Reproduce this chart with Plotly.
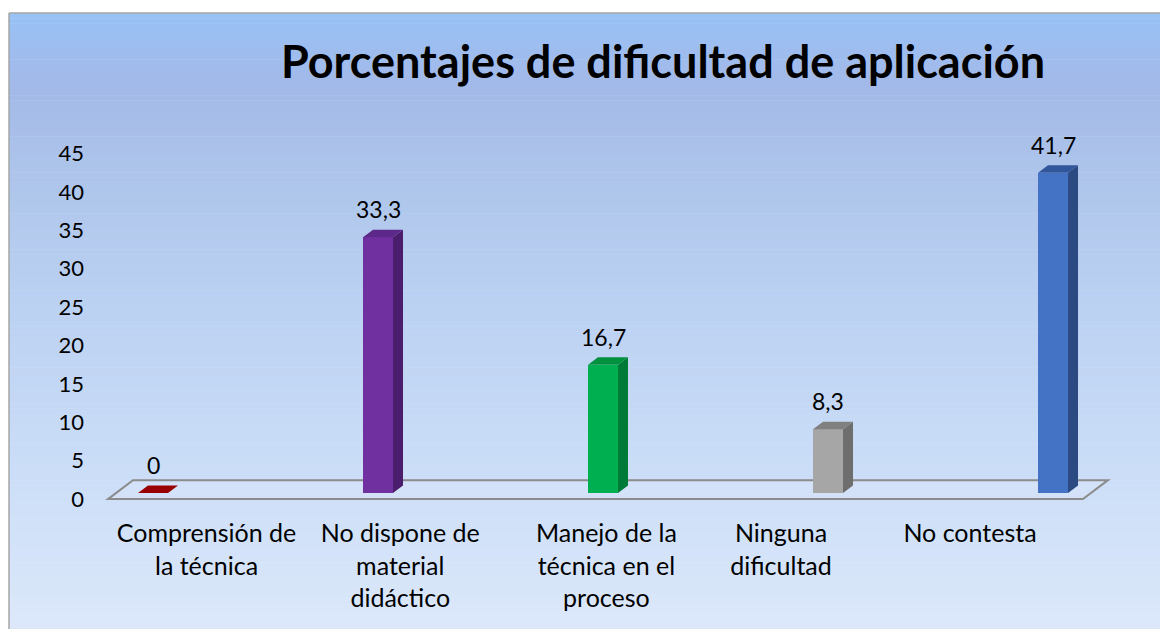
import plotly.graph_objects as go

# ---------------- data ----------------
categories = [
    "Comprensión de<br>la técnica",
    "No dispone de<br>material<br>didáctico",
    "Manejo de la<br>técnica en el<br>proceso",
    "Ninguna<br>dificultad",
    "No contesta",
]
values = [0, 33.3, 16.7, 8.3, 41.7]
y_ticks = [0, 5, 10, 15, 20, 25, 30, 35, 40, 45]

# ---------------- styles ----------------
front_colors = ["#c00000", "#7030a0", "#00b050", "#a6a6a6", "#4472c4"]
side_colors = ["#7a0000", "#4a1e6c", "#007a37", "#6e6e6e", "#2c4a82"]
top_colors = ["#990000", "#5c2889", "#00913f", "#808080", "#31569b"]
# small horizontal nudges of the wrapped category labels (label-axis units)
label_nudge = [0.0, 0.015, 0.095, 0.01, 0.0]

W, H = 1160, 629
ML, MR, MT, MB = 90, 10, 109, 109
PW, PH = W - ML - MR, H - MT - MB
FONT = "Lato"

x_range = [-0.28, 4.431]
y_range = [-3.5, 50]
bar_w = 30 / 225          # front face width (data units)
dx = 10 / 225             # depth offset (x)
dy = 7.5 / (PH / (y_range[1] - y_range[0]))  # depth offset (y)

def px_x(p):
    return (p - ML) / PW

def px_y(p):
    return (H - MB - p) / PH

fig = go.Figure()

# ---- background gradient (bands) ----
stops = [(13, (152, 193, 245)), (90, (163, 185, 232)), (160, (172, 195, 234)),
         (300, (187, 209, 242)), (450, (201, 220, 247)), (629, (220, 232, 250))]
shapes = []
n_bands = 120
top_px, bot_px = 13, 629
for b in range(n_bands):
    y0p = top_px + (bot_px - top_px) * b / n_bands
    y1p = top_px + (bot_px - top_px) * (b + 1) / n_bands
    ym = (y0p + y1p) / 2
    for (a, ca), (c, cc) in zip(stops[:-1], stops[1:]):
        if a <= ym <= c:
            t = (ym - a) / (c - a)
            col = tuple(int(round(ca[k] + (cc[k] - ca[k]) * t)) for k in range(3))
            break
    shapes.append(dict(type="rect", xref="paper", yref="paper", layer="below",
                       x0=px_x(9), x1=px_x(W + 5), y0=px_y(y1p + 0.6), y1=px_y(y0p),
                       fillcolor="rgb(%d,%d,%d)" % col, line=dict(width=0)))
# frame lines
shapes.append(dict(type="line", xref="paper", yref="paper", layer="below",
                   x0=px_x(9), x1=px_x(W + 5), y0=px_y(13), y1=px_y(13),
                   line=dict(color="#a6a6a6", width=1.5)))
shapes.append(dict(type="line", xref="paper", yref="paper", layer="below",
                   x0=px_x(9), x1=px_x(9), y0=px_y(13), y1=px_y(H + 5),
                   line=dict(color="#a6a6a6", width=1.5)))

# ---- floor (axis plane) ----
n = len(categories)
fl_front_y = -0.78
fl_back_y = 1.69
fx0, fx1 = -0.2, n - 1 + 0.133 + 1e-9
fshift = 25 / 225
shapes.append(dict(type="path", xref="x", yref="y", layer="below",
                   path="M %f %f L %f %f L %f %f L %f %f Z" % (
                       fx0, fl_front_y, fx0 + fshift, fl_back_y,
                       fx1 + fshift, fl_back_y, fx1, fl_front_y),
                   fillcolor="rgba(215,228,248,0.6)",
                   line=dict(color="#8c8c8c", width=2)))

# ---- bars: front faces ----
fig.add_trace(go.Bar(x=list(range(n)), y=values, width=bar_w,
                     marker=dict(color=front_colors, line=dict(width=0)),
                     hoverinfo="skip", showlegend=False))

# ---- side and top faces ----
for i, v in enumerate(values):
    xl, xr = i - bar_w / 2, i + bar_w / 2
    if v > 0:
        fig.add_trace(go.Scatter(
            x=[xr, xr + dx, xr + dx, xr, xr], y=[0, dy, v + dy, v, 0],
            mode="lines", fill="toself", fillcolor=side_colors[i],
            line=dict(width=0, color=side_colors[i]), hoverinfo="skip", showlegend=False))
    fig.add_trace(go.Scatter(
        x=[xl, xr, xr + dx, xl + dx, xl], y=[v, v, v + dy, v + dy, v],
        mode="lines", fill="toself", fillcolor=top_colors[i],
        line=dict(width=0, color=top_colors[i]), hoverinfo="skip", showlegend=False))

# invisible trace on the label axis
fig.add_trace(go.Scatter(x=list(range(n)), y=[0] * n, xaxis="x2", mode="markers",
                         marker=dict(opacity=0), hoverinfo="skip", showlegend=False))

# ---- data labels ----
annotations = []
for i, v in enumerate(values):
    annotations.append(dict(x=i, y=v, xref="x", yref="y", yshift=28,
                            text=("%g" % v).replace(".", ","), showarrow=False,
                            font=dict(family=FONT, size=23, color="black")))

fig.update_layout(
    width=W, height=H,
    margin=dict(l=ML, r=MR, t=MT, b=MB),
    paper_bgcolor="white", plot_bgcolor="rgba(0,0,0,0)",
    shapes=shapes, annotations=annotations,
    title=dict(text="<b>Porcentajes de dificultad de aplicación</b>",
               x=663 / W, xref="container", xanchor="center",
               y=1 - 62 / H, yref="container", yanchor="middle",
               font=dict(family=FONT, size=45, color="black")),
    xaxis=dict(range=x_range, showticklabels=False, showgrid=False,
               zeroline=False, showline=False, ticks=""),
    xaxis2=dict(range=[-0.6104, 4.943], overlaying="x", anchor="y", side="bottom",
                tickvals=[i + d for i, d in enumerate(label_nudge)], ticktext=categories,
                showgrid=False, zeroline=False, showline=False, ticks="",
                ticklabelstandoff=-4,
                tickfont=dict(family=FONT, size=25, color="black")),
    yaxis=dict(range=y_range, tickvals=y_ticks, showgrid=False, zeroline=False,
               showline=False, ticks="", ticklabelshift=6, ticklabelstandoff=5,
               tickfont=dict(family=FONT, size=22, color="black")),
    bargap=0,
)

fig.write_html("out.html", config={"displayModeBar": False},
               post_script="document.body.style.margin='0';")
